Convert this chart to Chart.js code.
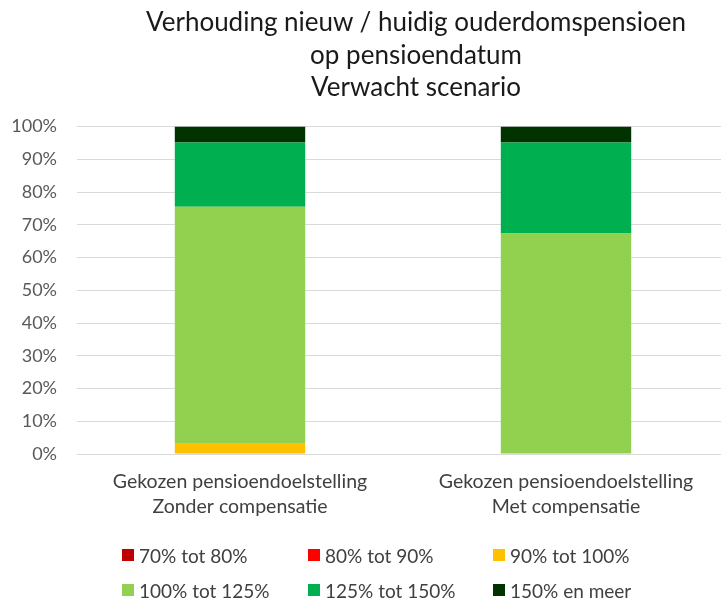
<!DOCTYPE html>
<html>
<head>
<meta charset="utf-8">
<script src="https://cdn.jsdelivr.net/npm/chart.js@4/dist/chart.umd.min.js"></script>
<style>
    html, body { margin: 0; padding: 0; background: #fff; overflow: hidden; }
    #wrap { position: relative; width: 721px; height: 601px; overflow: hidden; }
    #title { position: absolute; left: 116px; width: 600px; top: 5px; text-align: center;
             font-family: Lato, sans-serif; font-size: 26px; line-height: 32.5px; color: #1a1a1a; }
    #legend { position: absolute; left: 0; top: 0; width: 721px; height: 601px; pointer-events: none;
              font-family: Lato, sans-serif; font-size: 19px; color: #404040; }
    .item { position: absolute; display: flex; align-items: center; white-space: nowrap; height: 24px; }
    .box { width: 12px; height: 12px; margin-right: 5px; }
</style>
</head>
<body>
<div id="wrap">
    <canvas id="chart" width="760" height="601"></canvas>
    <div id="title"></div>
    <div id="legend"></div>
</div>
<script>
const categories = [
    ['Gekozen pensioendoelstelling', 'Zonder compensatie'],
    ['Gekozen pensioendoelstelling', 'Met compensatie']
];
const seriesLabels = ['70% tot 80%', '80% tot 90%', '90% tot 100%', '100% tot 125%', '125% tot 150%', '150% en meer'];
const seriesColors = ['#C00000', '#FF0000', '#FFC000', '#92D050', '#00B050', '#003300'];

// percentages per category, bottom to top
const tot80 = [0, 0];
const tot90 = [0, 0];
const tot100 = [3.1, 0];
const tot125 = [72.4, 67.3];
const tot150 = [19.6, 27.8];
const enMeer = [4.9, 4.9];
const seriesValues = [tot80, tot90, tot100, tot125, tot150, enMeer];

const titleLines = ['Verhouding nieuw / huidig ouderdomspensioen', 'op pensioendatum', 'Verwacht scenario'];

const font = 'Lato, "Open Sans", sans-serif';

const datasets = seriesLabels.map((label, i) => ({
    label: label,
    data: seriesValues[i],
    backgroundColor: seriesColors[i],
    borderWidth: 0,
    categoryPercentage: 1,
    barPercentage: 0.4
}));

new Chart(document.getElementById('chart').getContext('2d'), {
    type: 'bar',
    data: { labels: categories, datasets: datasets },
    options: {
        responsive: false,
        animation: false,
        layout: { padding: { left: 0, right: 31, top: 126.5, bottom: 74 } },
        plugins: {
            legend: { display: false },
            tooltip: { enabled: false }
        },
        scales: {
            x: {
                stacked: true,
                grid: { display: false },
                border: { display: false },
                ticks: {
                    color: '#404040',
                    font: { family: font, size: 19.5, lineHeight: '25px' },
                    padding: 7.5,
                    maxRotation: 0
                }
            },
            y: {
                stacked: true,
                min: 0,
                max: 100,
                afterFit: scale => { scale.width = 77; },
                grid: { color: '#d9d9d9', lineWidth: 1, drawTicks: false },
                border: { display: false },
                ticks: {
                    stepSize: 10,
                    padding: 20,
                    color: '#595959',
                    font: { family: font, size: 18 },
                    callback: value => value + '%'
                }
            }
        }
    }
});

// title, centred where the original has it
const title = document.getElementById('title');
titleLines.forEach(line => {
    const div = document.createElement('div');
    div.textContent = line;
    title.appendChild(div);
});

// legend in three columns, like the original
const legend = document.getElementById('legend');
const colX = [122, 308, 493];
const rowY = [555, 590];
seriesLabels.forEach((label, i) => {
    const item = document.createElement('div');
    item.className = 'item';
    item.style.left = colX[i % 3] + 'px';
    item.style.top = (rowY[Math.floor(i / 3)] - 12) + 'px';
    const box = document.createElement('span');
    box.className = 'box';
    box.style.background = seriesColors[i];
    const text = document.createElement('span');
    text.textContent = label;
    item.appendChild(box);
    item.appendChild(text);
    legend.appendChild(item);
});
</script>
</body>
</html>
